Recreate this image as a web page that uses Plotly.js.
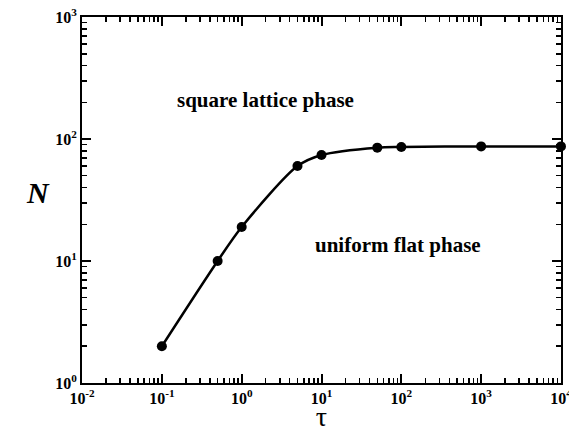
<!DOCTYPE html>
<html>
<head>
<meta charset="utf-8">
<script src="https://cdn.plot.ly/plotly-3.0.1.min.js"></script>
<style>html,body{margin:0;padding:0;background:#fff;}#chart{width:569px;height:432px;}</style>
</head>
<body>
<div id="chart"></div>
<script>
var tau = [0.1, 0.5, 1, 5, 10, 50, 100, 1000, 10000];
var N = [2, 10, 19, 60, 74, 85, 86, 87, 87];
var xTickVals = [0.01, 0.1, 1, 10, 100, 1000, 10000];
var xTickText = ['10<sup>-2</sup>', '10<sup>-1</sup>', '10<sup>0</sup>', '10<sup>1</sup>', '10<sup>2</sup>', '10<sup>3</sup>', '10<sup>4</sup>'];
var yTickVals = [1, 10, 100, 1000];
var yTickText = ['10<sup>0</sup>', '10<sup>1</sup>', '10<sup>2</sup>', '10<sup>3</sup>'];
var phaseLabels = ["square lattice phase", "uniform flat phase"];
var phaseX = [0.145, 7.9];
var phaseY = [207, 13.4];

function minorVals(lo, hi) {
  var out = [];
  for (var e = lo; e < hi; e++) {
    for (var m = 2; m <= 9; m++) out.push(m * Math.pow(10, e));
  }
  return out;
}

var serif = "Liberation Serif, Times New Roman, serif";
function axisCommon(minorTicks) {
  return {
    type: 'log',
    showgrid: false,
    zeroline: false,
    showline: true,
    linecolor: '#000',
    linewidth: 2,
    mirror: 'allticks',
    ticks: 'inside',
    ticklen: 9,
    tickwidth: 2,
    tickcolor: '#000',
    ticklabeloverflow: 'allow',
    tickfont: {family: serif, size: 16, color: '#000', weight: 'bold'},
    minor: {tickmode: 'array', tickvals: minorTicks, ticks: 'inside', ticklen: 5, tickwidth: 1.5, tickcolor: '#000', showgrid: false}
  };
}

var trace = {
  x: tau, y: N,
  mode: 'lines+markers',
  type: 'scatter',
  cliponaxis: false,
  line: {color: '#000', width: 2.5, shape: 'spline', smoothing: 0.8},
  marker: {color: '#000', size: 10},
  hoverinfo: 'skip'
};

var annotations = phaseLabels.map(function(t, i) {
  return {
    text: '<b>' + t + '</b>', x: Math.log10(phaseX[i]), y: Math.log10(phaseY[i]),
    xref: 'x', yref: 'y', showarrow: false, xanchor: 'left', yanchor: 'middle',
    font: {family: serif, size: 21, color: '#000'}
  };
});
annotations.push({
  text: '<b><i>N</i></b>', xref: 'paper', yref: 'paper', x: -0.092, y: 0.52,
  xanchor: 'center', yanchor: 'middle', showarrow: false,
  font: {family: serif, size: 30, color: '#000'}
});

var layout = {
  width: 569, height: 432,
  margin: {l: 82, r: 8, t: 17, b: 49},
  paper_bgcolor: '#fff', plot_bgcolor: '#fff',
  showlegend: false,
  xaxis: Object.assign(axisCommon(minorVals(-2, 4)), {
    range: [-2.0005, 4.0005], tickmode: 'array', tickvals: xTickVals, ticktext: xTickText,
    title: {text: 'τ', font: {family: serif, size: 28, color: '#000'}, standoff: 11}
  }),
  yaxis: Object.assign(axisCommon(minorVals(0, 3)), {
    range: [-0.0005, 3.0005], tickmode: 'array', tickvals: yTickVals, ticktext: yTickText
  }),
  annotations: annotations
};

Plotly.newPlot('chart', [trace], layout, {displayModeBar: false, staticPlot: true});
</script>
</body>
</html>
